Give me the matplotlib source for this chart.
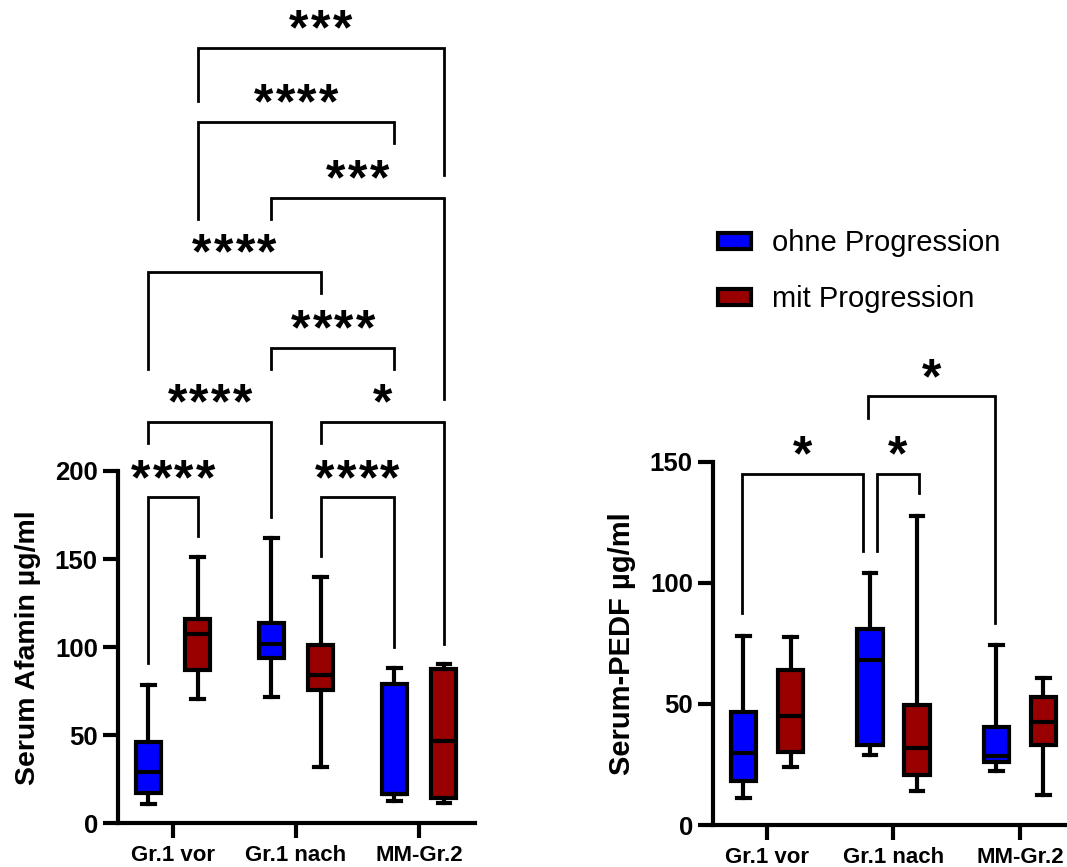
import matplotlib
matplotlib.use('Agg')
import matplotlib.pyplot as plt
from matplotlib.patches import Patch

plt.rcParams['font.family'] = ['Liberation Sans', 'DejaVu Sans']

gruppen = ['Gr.1 vor', 'Gr.1 nach', 'MM-Gr.2']
serien = ['ohne Progression', 'mit Progression']
farben = ['#0000ff', '#990000']

# je Gruppe: min, q1, median, q3, max
afamin_ohne = [[10.8, 17.5, 29, 46.5, 78.8], [71.6, 94, 102, 114, 162], [12.6, 17, 17, 79.3, 88]]
afamin_mit = [[70.8, 87, 107.5, 116, 151], [32, 75.5, 84, 101, 140], [11.5, 14.6, 47, 87.6, 90.5]]
pedf_ohne = [[11, 18, 29.6, 46.8, 78], [29, 33, 68, 80.8, 104], [22.4, 26, 28.5, 40.3, 74.3]]
pedf_mit = [[23.8, 30.3, 45, 64, 77.5], [14.2, 20.6, 31.7, 49.5, 127.6], [12.4, 33, 42.7, 53, 60.6]]

# Signifikanz-Klammern: x links, x rechts, Hoehe, Ende links, Ende rechts, Text
afamin_klammern = [
    (0.2, 2.2, 440, 410, 368, '***'),
    (0.2, 1.8, 398, 343, 386, '****'),
    (0.8, 2.2, 355, 343, 241, '***'),
    (-0.2, 1.2, 313, 258, 301, '****'),
    (0.8, 1.8, 270, 258, 258, '****'),
    (-0.2, 0.8, 228, 216, 174, '****'),
    (1.2, 2.2, 228, 216, 102, '*'),
    (-0.2, 0.2, 185, 91, 163, '****'),
    (1.2, 1.8, 185, 152, 100, '****'),
]
pedf_klammern = [
    (-0.2, 0.76, 145, 87.5, 113, '*'),
    (0.87, 1.2, 145, 113, 137, '*'),
    (0.8, 1.8, 177, 168, 83.5, '*'),
]

LW = 3


def stats(werte):
    return [dict(whislo=w[0], q1=w[1], med=w[2], q3=w[3], whishi=w[4], fliers=[]) for w in werte]


def boxen(ax, ohne, mit, off):
    for werte, sign, farbe in [(ohne, -1, farben[0]), (mit, 1, farben[1])]:
        pos = [i + sign * off for i in range(len(gruppen))]
        ax.bxp(stats(werte), positions=pos, widths=0.2, capwidths=0.1,
               patch_artist=True, showfliers=False,
               boxprops=dict(facecolor=farbe, edgecolor='k', linewidth=LW),
               whiskerprops=dict(color='k', linewidth=LW),
               capprops=dict(color='k', linewidth=LW),
               medianprops=dict(color='k', linewidth=LW))


def klammern(ax, liste):
    for x1, x2, y, e1, e2, txt in liste:
        ax.plot([x1, x1, x2, x2], [e1, y, y, e2], color='k', lw=2, clip_on=False,
                solid_joinstyle='miter')
        # Sterne einzeln setzen, damit der Abstand stimmt
        n = len(txt)
        for i in range(n):
            ax.annotate('*', xy=((x1 + x2) / 2, y),
                        xytext=((i - (n - 1) / 2) * 15.6, 2.5), textcoords='offset points',
                        ha='center', va='baseline', fontsize=36, fontweight='bold',
                        annotation_clip=False)


def achse(ax, ymax, schritt):
    ax.set_ylim(0, ymax)
    ax.set_yticks(range(0, ymax + 1, schritt))
    ax.set_xticks(range(len(gruppen)))
    ax.set_xticklabels(gruppen, fontsize=16, fontweight='bold')
    for lab in ax.get_yticklabels():
        lab.set_fontsize(18.5)
        lab.set_fontweight('bold')
    ax.spines['top'].set_visible(False)
    ax.spines['right'].set_visible(False)
    ax.spines['left'].set_linewidth(LW)
    ax.spines['bottom'].set_linewidth(LW)
    ax.tick_params(width=LW, length=10.5, pad=4)
    ax.tick_params(axis='x', pad=5)


fig = plt.figure(figsize=(10.67, 8.67), dpi=100)

ax1 = fig.add_axes([0.1106, 0.0502, 0.3346, 0.4066])
boxen(ax1, afamin_ohne, afamin_mit, 0.2)
ax1.set_xlim(-0.447, 2.455)
achse(ax1, 200, 50)
ax1.set_ylabel('Serum Afamin µg/ml', fontsize=20.5, fontweight='bold', labelpad=10)
klammern(ax1, afamin_klammern)

ax2 = fig.add_axes([0.6682, 0.0484, 0.3318, 0.419])
boxen(ax2, pedf_ohne, pedf_mit, 0.186)
ax2.set_xlim(-0.427, 2.372)
achse(ax2, 150, 50)
ax2.set_ylabel('Serum-PEDF µg/ml', fontsize=21, fontweight='bold', labelpad=10)
klammern(ax2, pedf_klammern)

griffe = [Patch(facecolor=f, edgecolor='k', linewidth=LW) for f in farben]
fig.legend(griffe, serien, loc='upper left', bbox_to_anchor=(0.6728, 0.7354), frameon=False,
           fontsize=21, handlelength=1.15, handleheight=0.45, handletextpad=0.7,
           labelspacing=0.95, borderpad=0, borderaxespad=0)

fig.savefig('out.png', dpi=100)
